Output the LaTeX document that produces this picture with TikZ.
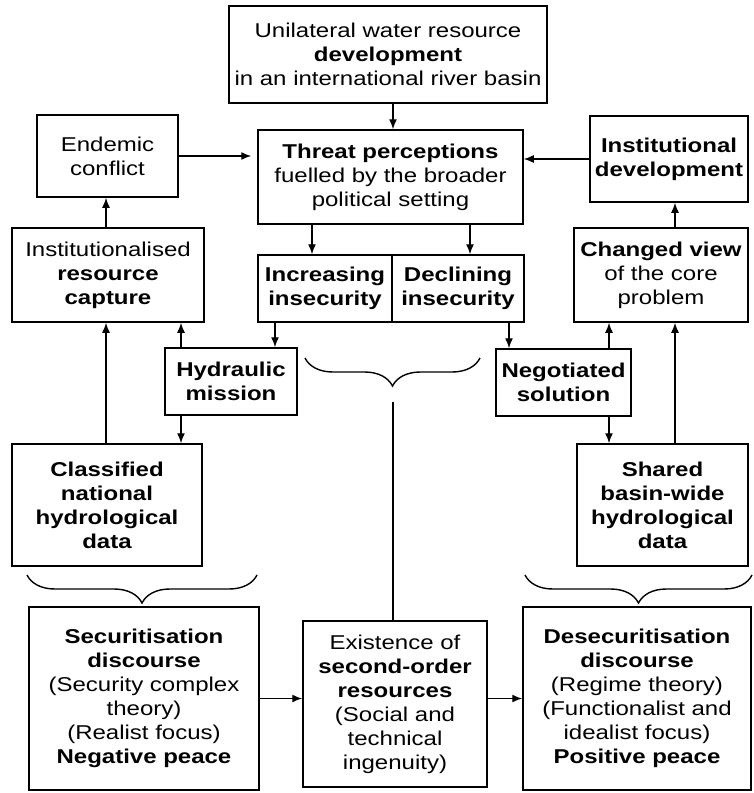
\documentclass[tikz,border=0pt]{standalone}
\usepackage{fontspec}
\setmainfont{Liberation Sans}[FakeStretch=1.2]
\usetikzlibrary{arrows.meta,decorations.pathreplacing}

\begin{document}
\begin{tikzpicture}[x=1pt,y=-1pt,
  box/.style={draw,line width=1.5pt,rectangle,align=center,inner sep=2pt,
    font=\fontsize{20}{24}\selectfont},
  arr/.style={line width=1.4pt,-{Latex[length=10pt,width=8pt]}},
  brc/.style={line width=1.4pt,decorate,decoration={brace,amplitude=28pt}}]
  \useasboundingbox (0,0) rectangle (753,793);
  % top part
  \node[box,minimum width=318pt,minimum height=97pt] (unil) at (388,54.5)
    {Unilateral water resource\\\textbf{development}\\in an international river basin};
  \node[box,minimum width=141pt,minimum height=82pt] (endemic) at (107.5,156)
    {Endemic\\conflict};
  \node[box,minimum width=265pt,minimum height=94pt] (threat) at (390.5,177)
    {\textbf{Threat perceptions}\\fuelled by the broader\\political setting};
  \node[box,minimum width=158pt,minimum height=86pt] (instdev) at (669,159)
    {\textbf{Institutional}\\\textbf{development}};
  % second row
  \node[box,minimum width=192pt,minimum height=94pt] (capture) at (108,275)
    {Institutionalised\\\textbf{resource}\\\textbf{capture}};
  \node[box,minimum width=134pt,minimum height=67pt] (incr) at (325,288.5)
    {\textbf{Increasing}\\\textbf{insecurity}};
  \node[box,minimum width=132pt,minimum height=67pt] (decl) at (458,288.5)
    {\textbf{Declining}\\\textbf{insecurity}};
  \node[box,minimum width=174pt,minimum height=94pt] (changed) at (661,275)
    {\textbf{Changed view}\\of the core\\problem};
  % third row
  \node[box,minimum width=132pt,minimum height=67pt] (hydr) at (231,381.5)
    {\textbf{Hydraulic}\\\textbf{mission}};
  \node[box,minimum width=135pt,minimum height=67pt] (nego) at (563.5,382.5)
    {\textbf{Negotiated}\\\textbf{solution}};
  \node[box,minimum width=190pt,minimum height=122pt] (classif) at (107,505)
    {\textbf{Classified}\\\textbf{national}\\\textbf{hydrological}\\\textbf{data}};
  \node[box,minimum width=171pt,minimum height=122pt] (shared) at (662.5,505)
    {\textbf{Shared}\\\textbf{basin-wide}\\\textbf{hydrological}\\\textbf{data}};
  % bottom row
  \node[box,minimum width=230pt,minimum height=183pt] (secur) at (144,698.5)
    {\textbf{Securitisation}\\\textbf{discourse}\\(Security complex\\theory)\\(Realist focus)\\\textbf{Negative peace}};
  \node[box,minimum width=184pt,minimum height=166pt] (exist) at (395,704)
    {Existence of\\\textbf{second-order}\\\textbf{resources}\\(Social and\\technical\\ingenuity)};
  \node[box,minimum width=228pt,minimum height=183pt] (desec) at (637,698.5)
    {\textbf{Desecuritisation}\\\textbf{discourse}\\(Regime theory)\\(Functionalist and\\idealist focus)\\\textbf{Positive peace}};
  % arrows
  \draw[arr] ([xshift=5pt]unil.south) -- ([xshift=5pt]unil.south |- threat.north);
  \draw[arr,shorten >=6pt] (endemic.east) -- (endemic.east -| threat.west);
  \draw[arr] (instdev.west) -- (instdev.west -| threat.east);
  \draw[arr] ([xshift=-78.5pt]threat.south) -- ([xshift=-78.5pt]threat.south |- incr.north);
  \draw[arr] ([xshift=79.5pt]threat.south) -- ([xshift=79.5pt]threat.south |- decl.north);
  \draw[arr] ([xshift=-2pt]capture.north) -- ([xshift=-2pt]capture.north |- endemic.south);
  \draw[arr] ([xshift=14pt]changed.north) -- ([xshift=14pt]changed.north |- instdev.south);
  \draw[arr] ([xshift=-50pt]incr.south) -- ([xshift=-50pt]incr.south |- hydr.north);
  \draw[arr] ([xshift=51pt]decl.south) -- ([xshift=51pt]decl.south |- nego.north);
  \draw[arr] ([xshift=-50pt]hydr.north) -- ([xshift=-50pt]hydr.north |- capture.south);
  \draw[arr] ([xshift=-50pt]hydr.south) -- ([xshift=-50pt]hydr.south |- classif.north);
  \draw[arr] ([xshift=-1pt]classif.north) -- ([xshift=-1pt]classif.north |- capture.south);
  \draw[arr] ([xshift=45.5pt]nego.north) -- ([xshift=45.5pt]nego.north |- changed.south);
  \draw[arr] ([xshift=45.5pt]nego.south) -- ([xshift=45.5pt]nego.south |- shared.north);
  \draw[arr] ([xshift=12.5pt]shared.north) -- ([xshift=12.5pt]shared.north |- changed.south);
  \draw[arr] (secur.east) -- (secur.east -| exist.west);
  \draw[arr] (secur.east -| exist.east) -- (secur.east -| desec.west);
  % braces
  \draw[brc] (257,575) -- (27,575);
  \draw[brc] (752,575) -- (525,575);
  \draw[brc] (480,358) -- (305,358);
  \coordinate (midtip) at (393,402);
  \draw[line width=1.4pt] (midtip) -- (midtip |- exist.north);
\end{tikzpicture}
\end{document}
